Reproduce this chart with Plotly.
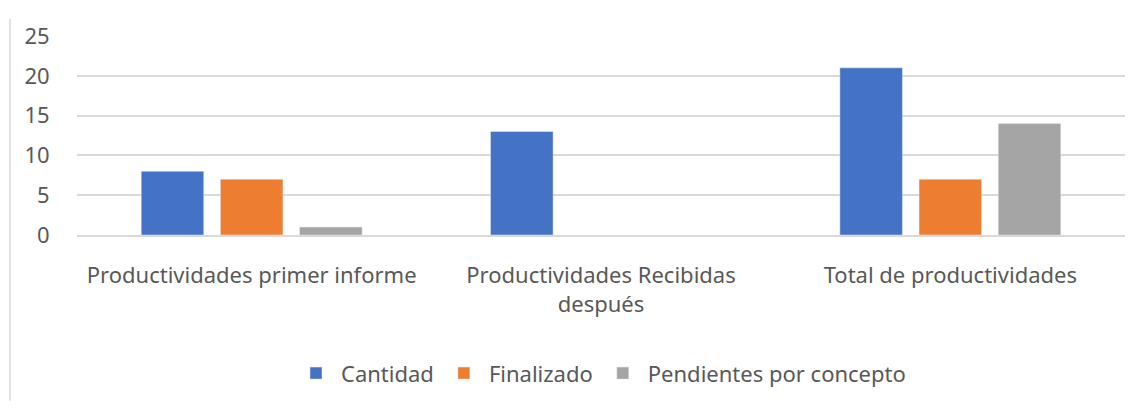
import plotly.graph_objects as go

# datos del informe
categorias = ["Productividades primer informe", "Productividades Recibidas<br>después", "Total de productividades"]
cantidad = [8, 13, 21]
finalizado = [7, None, 7]
pendientes = [1, None, 14]

fig = go.Figure()
fig.add_trace(go.Bar(name="Cantidad", x=categorias, y=cantidad, marker_color="#4472C4"))
fig.add_trace(go.Bar(name="Finalizado", x=categorias, y=finalizado, marker_color="#ED7D31"))
fig.add_trace(go.Bar(name="Pendientes por concepto", x=categorias, y=pendientes, marker_color="#A5A5A5"))

# la pagina tiene 8px de margen en el body
fig.update_layout(
    width=1136, height=401,
    margin=dict(l=69, r=19, t=18, b=174),
    paper_bgcolor="white", plot_bgcolor="white",
    barmode="group", bargap=0.32, bargroupgap=0.21,
    font=dict(family="Noto Sans", size=22, color="#595959"),
    legend=dict(orientation="h", x=0.5, xanchor="center", y=-0.695, yanchor="middle",
                font=dict(size=22), itemwidth=40, traceorder="normal"),
    showlegend=True,
)
fig.update_yaxes(range=[0, 25], dtick=5, showgrid=True, gridcolor="#D9D9D9", gridwidth=1.5,
                 zeroline=False, showline=False, ticks="outside", ticklen=22, tickcolor="white")
fig.update_xaxes(showline=True, linecolor="#D9D9D9", linewidth=1.5, ticks="outside",
                 ticklen=20, tickcolor="rgba(0,0,0,0)")

# borde izquierdo del grafico
fig.add_shape(type="line", xref="paper", yref="paper",
              x0=(2 - 69) / 1048, x1=(2 - 69) / 1048, y0=-174 / 209, y1=1 + 18 / 209,
              line=dict(color="#D9D9D9", width=1.5))

fig.write_html("out.html")
